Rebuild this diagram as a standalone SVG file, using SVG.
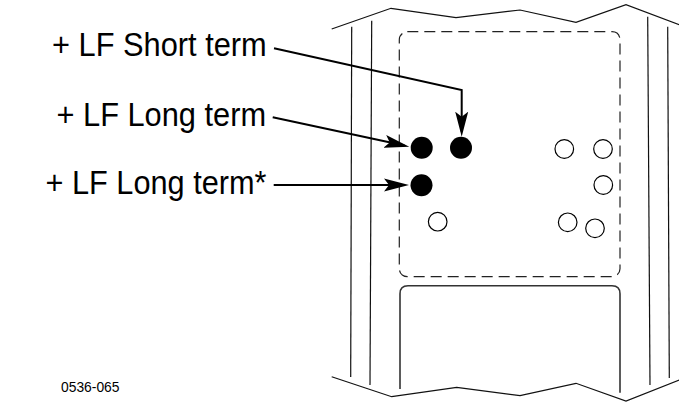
<svg xmlns="http://www.w3.org/2000/svg" width="679" height="403" viewBox="0 0 679 403">
<style>
.frame{fill:none;stroke:#111;stroke-width:1.2;stroke-linejoin:miter}
.dash{fill:none;stroke:#222;stroke-width:1.2;stroke-dasharray:11 6}
.inner{fill:none;stroke:#333;stroke-width:1.6}
.lead{fill:none;stroke:#000;stroke-width:2;marker-end:url(#ah)}
.dot{fill:#000}
.hole{fill:#fff;stroke:#000;stroke-width:1.2}
.lbl{font-family:"Liberation Sans",Arial,sans-serif;font-size:32.5px;fill:#000}
.code{font-family:"Liberation Sans",Arial,sans-serif;font-size:15px;fill:#000}
</style>
<defs>
<marker id="ah" markerUnits="userSpaceOnUse" markerWidth="26" markerHeight="14" viewBox="0 0 26 14" refX="20" refY="7" orient="auto">
<path d="M25,7 L0,0.5 L5,7 L0,13.5 Z" fill="#000"/>
</marker>
</defs>
<rect width="679" height="403" fill="#fff"/>
<g id="frame">
<polyline class="frame" points="331.7,29 391,8.3 456,17.7 520,10 576,22.3 626,4.7 679.3,24.7"/>
<polyline class="frame" points="331.7,376.7 391.7,396.7 456.7,387.3 520,395.7 576,383.3 626,401 679.3,380"/>
<line class="frame" x1="351.7" y1="26.7" x2="350.7" y2="377"/>
<line class="frame" x1="371.7" y1="20.7" x2="370" y2="385"/>
<line class="frame" x1="647.7" y1="16.7" x2="650" y2="385"/>
<line class="frame" x1="667.7" y1="26.7" x2="669.3" y2="378"/>
<rect class="dash" x="399.3" y="31.7" width="220.7" height="245" rx="8"/>
<path class="inner" d="M400,389 L400,293.7 Q400,285.7 408,285.7 L612,285.7 Q620,285.7 620,293.7 L620,392.7"/>
</g>
<g id="holes">
<circle class="dot" cx="421.7" cy="147.8" r="11"/>
<circle class="dot" cx="461" cy="147.8" r="11"/>
<circle class="dot" cx="421.5" cy="185.3" r="11"/>
<circle class="hole" cx="564.3" cy="149" r="9.3"/>
<circle class="hole" cx="603" cy="149" r="9.3"/>
<circle class="hole" cx="603.3" cy="185" r="9.3"/>
<circle class="hole" cx="437.7" cy="221.7" r="9.3"/>
<circle class="hole" cx="567.7" cy="222.3" r="9.3"/>
<circle class="hole" cx="595" cy="228.3" r="9.3"/>
</g>
<g id="connectors">
<path class="lead" d="M274,48.3 L461.7,90 L461.7,131.7"/>
<path class="lead" d="M272.7,117.3 L404.4,145.6"/>
<path class="lead" d="M273.7,185 L404,185"/>
</g>
<g id="label-short">
<text class="lbl" x="52" y="55.7" textLength="214.7" lengthAdjust="spacingAndGlyphs">+ LF Short term</text>
</g>
<g id="label-long">
<text class="lbl" x="56.5" y="125.7" textLength="209.6" lengthAdjust="spacingAndGlyphs">+ LF Long term</text>
</g>
<g id="label-long-star">
<text class="lbl" x="45.5" y="194.3" textLength="221" lengthAdjust="spacingAndGlyphs">+ LF Long term*</text>
</g>
<g id="code">
<text class="code" x="61" y="391.7" textLength="58.5" lengthAdjust="spacingAndGlyphs">0536-065</text>
</g>
</svg>
